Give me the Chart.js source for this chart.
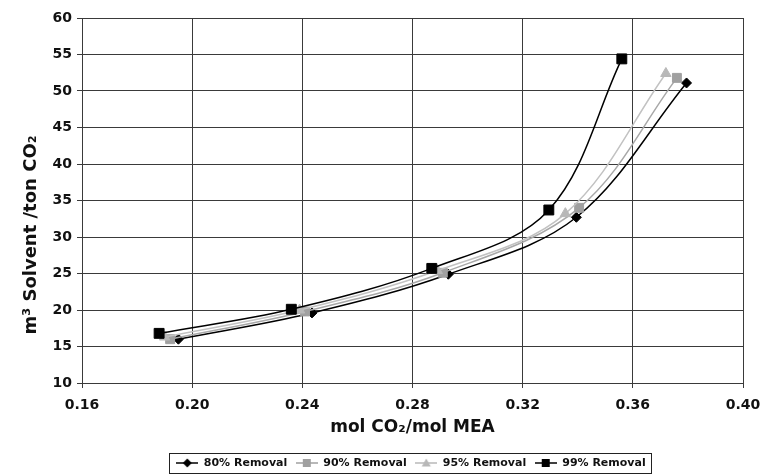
<!DOCTYPE html>
<html lang="en">
<head>
    <meta charset="UTF-8">
    <script src="https://cdn.jsdelivr.net/npm/chart.js"></script>
    <title>Solvent Rate vs Lean Loading</title>
    <style>
        body {
            margin: 0;
            background: #fff;
            overflow: hidden;
        }
        canvas {
            display: block;
        }
    </style>
</head>
<body>

<canvas id="solventChart" width="764" height="475"></canvas>

<script>
    // lean loading (mol CO2/mol MEA) and solvent rate (m3/ton CO2) per removal case
    const seriesNames = ['80% Removal', '90% Removal', '95% Removal', '99% Removal'];
    const loading80 = [0.195, 0.2435, 0.293, 0.3395, 0.3795];
    const solvent80 = [16.0, 19.6, 24.9, 32.7, 51.1];
    const loading90 = [0.192, 0.241, 0.291, 0.3405, 0.376];
    const solvent90 = [16.0, 19.8, 25.1, 34.0, 51.8];
    const loading95 = [0.190, 0.239, 0.289, 0.3355, 0.372];
    const solvent95 = [16.3, 20.0, 25.4, 33.2, 52.4];
    const loading99 = [0.188, 0.236, 0.287, 0.3295, 0.356];
    const solvent99 = [16.8, 20.1, 25.7, 33.7, 54.4];
    const xTicks = [0.16, 0.20, 0.24, 0.28, 0.32, 0.36, 0.40];

    const fontFamily = '"DejaVu Sans", Arial, sans-serif';
    const gridColor = '#3a3a3a';

    function toPoints(xs, ys) {
        return xs.map((x, i) => ({ x: x, y: ys[i] }));
    }

    // small line + marker icon used by the legend, Excel style
    function legendIcon(color, shape) {
        const c = document.createElement('canvas');
        c.width = 22;
        c.height = 12;
        const g = c.getContext('2d');
        g.strokeStyle = color;
        g.fillStyle = color;
        g.lineWidth = 1.5;
        g.beginPath();
        g.moveTo(0, 6);
        g.lineTo(22, 6);
        g.stroke();
        g.beginPath();
        if (shape === 'rect') {
            g.rect(7, 2, 8, 8);
        } else if (shape === 'triangle') {
            g.moveTo(11, 1.5);
            g.lineTo(15.5, 9.5);
            g.lineTo(6.5, 9.5);
            g.closePath();
        } else {
            g.moveTo(11, 1.5);
            g.lineTo(15.5, 6);
            g.lineTo(11, 10.5);
            g.lineTo(6.5, 6);
            g.closePath();
        }
        g.fill();
        return c;
    }

    function makeSet(i, xs, ys, color, lineColor, shape, radius) {
        return {
            label: seriesNames[i],
            data: toPoints(xs, ys),
            showLine: true,
            tension: 0.35,
            borderColor: lineColor,
            borderWidth: 1.5,
            backgroundColor: color,
            pointBackgroundColor: color,
            pointBorderColor: color,
            pointBorderWidth: 1,
            pointStyle: shape,
            pointRadius: radius,
            order: 4 - i,
            icon: legendIcon(color, shape)
        };
    }

    const datasets = [
        makeSet(0, loading80, solvent80, '#000000', '#000000', 'rectRot', 5),
        makeSet(1, loading90, solvent90, '#a0a0a0', '#a8a8a8', 'rect', 6.3),
        makeSet(2, loading95, solvent95, '#b8b8b8', '#c2c2c2', 'triangle', 6),
        makeSet(3, loading99, solvent99, '#000000', '#000000', 'rect', 7)
    ];

    // center the legend under the plot and draw the frame round it
    const legendFrame = {
        id: 'legendFrame',
        afterLayout(chart) {
            const lg = chart.legend;
            const shift = 411 - (lg.left + lg.right) / 2;
            lg.left += shift;
            lg.right += shift;
        },
        afterDraw(chart) {
            const boxes = chart.legend.legendHitBoxes;
            if (!boxes || !boxes.length) return;
            const first = boxes[0];
            const last = boxes[boxes.length - 1];
            const cy = first.top + first.height / 2;
            const ctx = chart.ctx;
            ctx.save();
            ctx.strokeStyle = '#222';
            ctx.lineWidth = 1;
            ctx.strokeRect(Math.round(first.left - 7) + 0.5, Math.round(cy - 10) + 0.5,
                Math.round(last.left + last.width - first.left + 13), 20);
            ctx.restore();
        }
    };

    const ctx = document.getElementById('solventChart').getContext('2d');
    const solventChart = new Chart(ctx, {
        type: 'scatter',
        data: { datasets: datasets },
        plugins: [legendFrame],
        options: {
            responsive: false,
            animation: false,
            devicePixelRatio: 1,
            layout: {
                padding: { top: 18, right: 21, bottom: -3.5, left: 0 }
            },
            plugins: {
                tooltip: { enabled: false },
                legend: {
                    position: 'bottom',
                    labels: {
                        usePointStyle: true,
                        pointStyleWidth: 22,
                        padding: 8.5,
                        color: '#111',
                        font: { family: fontFamily, size: 11, weight: 'bold' },
                        sort: (a, b) => a.datasetIndex - b.datasetIndex,
                        generateLabels(chart) {
                            const items = Chart.defaults.plugins.legend.labels.generateLabels(chart);
                            items.forEach(item => {
                                item.pointStyle = chart.data.datasets[item.datasetIndex].icon;
                            });
                            return items;
                        }
                    }
                }
            },
            scales: {
                x: {
                    type: 'linear',
                    min: 0.16,
                    max: 0.40,
                    afterBuildTicks(scale) {
                        scale.ticks = xTicks.map(v => ({ value: v }));
                    },
                    afterFit(scale) {
                        scale.height = 66;
                        // let the layout padding alone decide the plot edges
                        scale.paddingLeft = 0;
                        scale.paddingRight = 0;
                    },
                    ticks: {
                        padding: 9,
                        color: '#111',
                        font: { family: fontFamily, size: 14, weight: 'bold' },
                        callback: v => v.toFixed(2)
                    },
                    grid: {
                        color: gridColor,
                        lineWidth: 1,
                        tickLength: 5,
                        tickColor: gridColor
                    },
                    border: { color: gridColor, width: 1 },
                    title: {
                        display: true,
                        text: 'mol CO\u2082/mol MEA',
                        color: '#111',
                        padding: { top: 0, bottom: 11 },
                        font: { family: fontFamily, size: 17, weight: 'bold' }
                    }
                },
                y: {
                    min: 10,
                    max: 60,
                    afterFit(scale) {
                        scale.width = 82;
                    },
                    ticks: {
                        stepSize: 5,
                        padding: 5,
                        color: '#111',
                        font: { family: fontFamily, size: 14, weight: 'bold' }
                    },
                    grid: {
                        color: gridColor,
                        lineWidth: 1,
                        tickLength: 5,
                        tickColor: gridColor
                    },
                    border: { color: gridColor, width: 1 },
                    title: {
                        display: true,
                        // trailing spaces push the centred title down like the original
                        text: 'm\u00b3 Solvent /ton CO\u2082' + ' '.repeat(11),
                        color: '#111',
                        padding: { top: 21, bottom: 0 },
                        font: { family: fontFamily, size: 18, weight: 'bold' }
                    }
                }
            }
        }
    });
</script>

</body>
</html>
